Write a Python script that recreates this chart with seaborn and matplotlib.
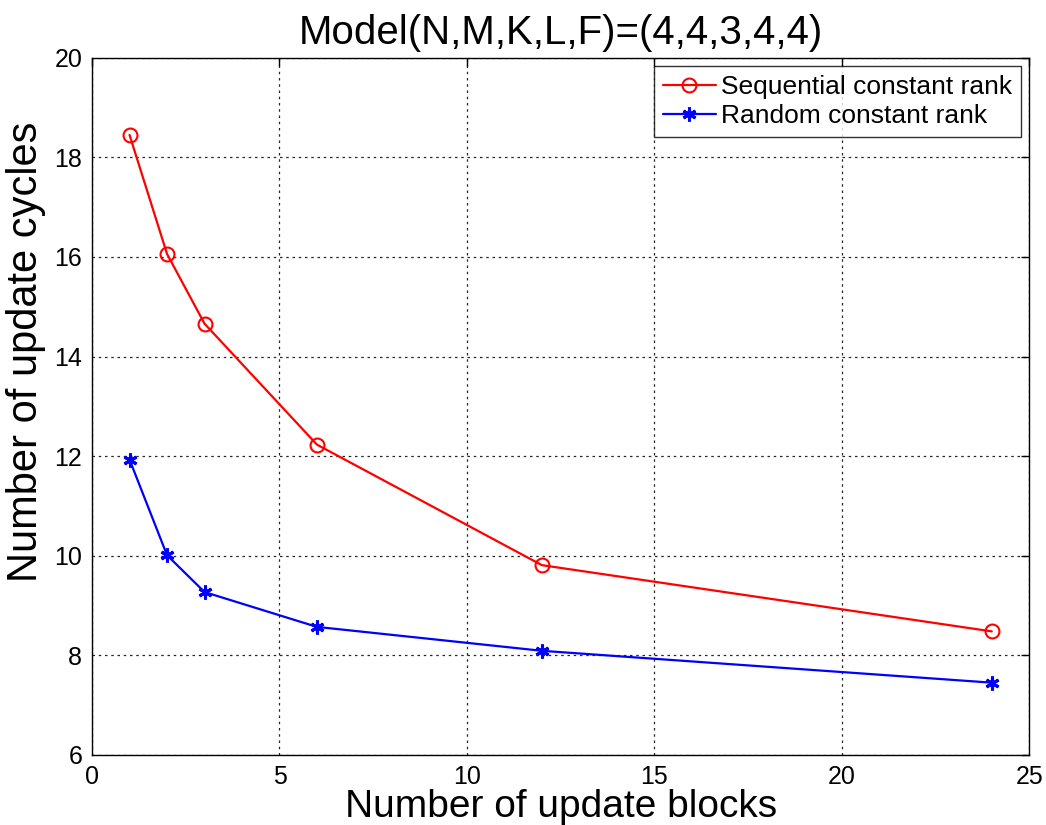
import matplotlib
matplotlib.use("Agg")
from matplotlib import pyplot as plt
import pandas as pd
import seaborn as sns

# data
blocks = [1, 2, 3, 6, 12, 24]
seq_cycles = [18.45, 16.06, 14.66, 12.23, 9.81, 8.48]
rand_cycles = [11.93, 10.01, 9.27, 8.57, 8.09, 7.45]
x_ticks = [0, 5, 10, 15, 20, 25]
y_ticks = [6, 8, 10, 12, 14, 16, 18, 20]

df = pd.DataFrame({'blocks': blocks, 'seq': seq_cycles, 'rand': rand_cycles})

sns.set_style('white')
plt.rcParams['font.family'] = ['Liberation Sans', 'DejaVu Sans']
plt.rcParams['text.color'] = 'black'
plt.rcParams['axes.labelcolor'] = 'black'

fig = plt.figure(figsize=(10.46, 8.25), dpi=100)
ax = fig.add_axes([0.088, 0.085, 0.896, 0.845])

sns.lineplot(data=df, x='blocks', y='seq', ax=ax, color='#ff0000', lw=1.6,
             marker='o', markersize=10, markerfacecolor='none',
             markeredgecolor='#ff0000', markeredgewidth=1.5,
             label='Sequential constant rank')
sns.lineplot(data=df, x='blocks', y='rand', ax=ax, color='#0000ff', lw=1.6,
             marker=(6, 2, 0), markersize=10, markerfacecolor='#0000ff',
             markeredgecolor='#0000ff', markeredgewidth=2.2,
             label='Random constant rank')

ax.set_xlim(0, 25)
ax.set_ylim(6, 20)
ax.set_xticks(x_ticks)
ax.set_yticks(y_ticks)
ax.grid(True, color='black', linestyle=(0, (2, 3)), linewidth=0.9, alpha=0.85)
for s in ax.spines.values():
    s.set_color('black')
    s.set_linewidth(1.0)
    s.set_visible(True)
ax.tick_params(direction='in', length=6, width=1, top=True, right=True,
               labelsize=18, colors='black', pad=7)

ax.set_title('Model(N,M,K,L,F)=(4,4,3,4,4)', fontsize=29, pad=10)
ax.set_xlabel('Number of update blocks', fontsize=28, labelpad=0)
ax.set_ylabel('Number of update cycles', fontsize=30)
ax.yaxis.set_label_coords(-0.049, 0.578)

leg = ax.legend(loc='upper right', fontsize=19, frameon=True, fancybox=False,
                edgecolor='black', borderpad=0.35, handlelength=2.0,
                handletextpad=0.2, labelspacing=0.2, borderaxespad=0.3)
leg.get_frame().set_linewidth(1.0)

fig.savefig('out.png', dpi=100)
